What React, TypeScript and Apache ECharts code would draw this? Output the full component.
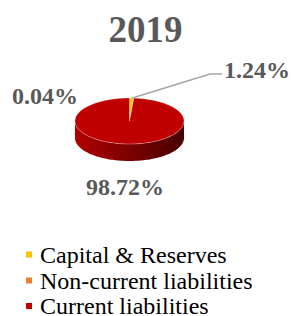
import React, { useEffect, useRef } from "react";
import * as echarts from "echarts";

const title = "2019";
const categories = ["Capital & Reserves", "Non-current liabilities", "Current liabilities"];
const values = [1.24, 0.04, 98.72];
const labels = ["1.24%", "0.04%", "98.72%"];
const colors = ["#FFC000", "#ED7D31", "#C00000"];
const sideColors = [
  ["#B08000", "#5A4000"],
  ["#A85520", "#502008"],
  ["#B00000", "#480000"],
];

// layout (not data)
const CX = 129.5;
const CY = 121;
const RX = 54.5;
const RY = 23;
const DEPTH = 17;
const SERIF = "Liberation Serif, Times New Roman, serif";
const LEGEND_TOPS = [241.5, 267.5, 293];

function arcPts(a0: number, a1: number, dy: number) {
  const pts: number[][] = [];
  const n = Math.max(2, Math.ceil(Math.abs(a1 - a0) / 0.03));
  for (let k = 0; k <= n; k++) {
    const t = a0 + ((a1 - a0) * k) / n;
    pts.push([CX + RX * Math.cos(t), CY + dy + RY * Math.sin(t)]);
  }
  return pts;
}

function labelStyle(text: string, x: number, y: number, align: string) {
  return {
    text,
    x,
    y,
    fontFamily: SERIF,
    fontSize: 24,
    fontWeight: "bold",
    fill: "#595959",
    align,
    verticalAlign: "middle",
  };
}

function makeRender(i: number) {
  return (params: any, api: any) => {
    const total = values.reduce((a, b) => a + b, 0);
    let before = 0;
    for (let k = 0; k < i; k++) before += values[k];
    const v = api.value(0);
    const s = -Math.PI / 2 + (2 * Math.PI * before) / total;
    const e = s + (2 * Math.PI * v) / total;
    const children: any[] = [];
    for (const shift of [-2 * Math.PI, 0, 2 * Math.PI]) {
      const lo = Math.max(s, shift);
      const hi = Math.min(e, shift + Math.PI);
      if (hi > lo) {
        const top = arcPts(lo, hi, 0);
        const bot = arcPts(hi, lo, DEPTH);
        children.push({
          type: "polygon",
          shape: { points: top.concat(bot) },
          style: {
            fill: new echarts.graphic.LinearGradient(0, 0, 1, 0, [
              { offset: 0, color: sideColors[i][0] },
              { offset: 1, color: sideColors[i][1] },
            ]),
            stroke: "none",
          },
        });
      }
    }
    children.push({
      type: "polygon",
      shape: { points: [[CX, CY]].concat(arcPts(s, e, 0)) },
      style: { fill: colors[i], stroke: "rgba(255,255,255,0.55)", lineWidth: 0.6 },
    });
    const mid = (s + e) / 2;
    if (i === 0) {
      const p0 = [CX + RX * Math.cos(mid) * 0.95, CY + RY * Math.sin(mid) * 0.95 - 1];
      children.push({
        type: "polyline",
        shape: { points: [p0, [210, 74], [222, 74]] },
        style: { stroke: "#A6A6A6", lineWidth: 1.5, fill: "none" },
      });
      children.push({ type: "text", style: labelStyle(labels[i], 224, 70, "left") });
    } else if (i === 1) {
      children.push({ type: "text", style: labelStyle(labels[i], 12, 96, "left") });
    } else {
      children.push({ type: "text", style: labelStyle(labels[i], 125, 187, "center") });
    }
    return { type: "group", children };
  };
}

export default function App() {
  const ref = useRef<HTMLDivElement>(null);
  useEffect(() => {
    if (!ref.current) return;
    const chart = echarts.init(ref.current, null, { renderer: "svg" });
    chart.setOption({
      animation: false,
      backgroundColor: "#ffffff",
      title: {
        text: title,
        left: "center",
        top: 6,
        textStyle: {
          fontFamily: SERIF,
          fontWeight: "bold",
          fontSize: 37,
          color: "#595959",
        },
      },
      legend: categories.map((name, i) => ({
        orient: "vertical",
        left: 26,
        top: LEGEND_TOPS[i],
        icon: "rect",
        itemWidth: 6,
        itemHeight: 6,
        itemGap: 0,
        padding: 0,
        data: [name],
        textStyle: {
          fontFamily: SERIF,
          fontSize: 24,
          lineHeight: 26,
          color: "#000000",
          padding: [0, 0, 0, 3],
        },
      })),
      series: categories.map((name, i) => ({
        type: "custom",
        name,
        coordinateSystem: "none",
        itemStyle: { color: colors[i] },
        data: [[values[i]]],
        renderItem: makeRender(i),
      })),
    });
    return () => chart.dispose();
  }, []);
  return (
    <div
      ref={ref}
      style={{ position: "fixed", left: 0, top: 0, width: 291, height: 316 }}
    />
  );
}
